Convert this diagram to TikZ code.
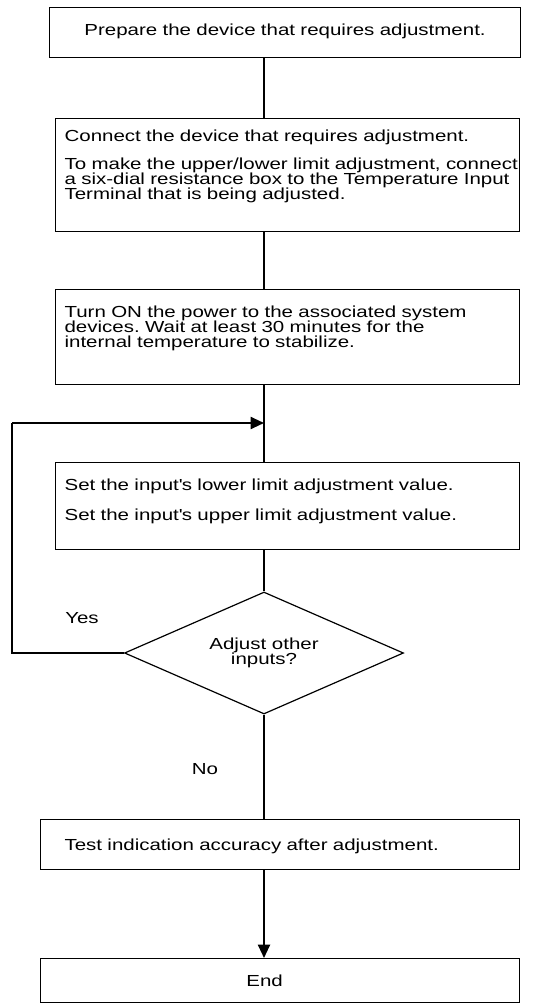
\documentclass[tikz,border=0pt]{standalone}
\usepackage{fontspec}
\setmainfont[FakeStretch=1.28]{Liberation Sans}
\usetikzlibrary{arrows.meta,positioning,shapes.geometric}
\frenchspacing

\begin{document}
\begin{tikzpicture}[
  x=0.75pt, y=-0.75pt,
  font=\fontsize{12}{11.25}\selectfont,
  >={Triangle[length=10pt,width=9pt]},
  stepbox/.style={draw, line width=0.9pt, anchor=north west, inner xsep=6.75pt, inner ysep=0pt, align=left, text width=334.5pt},
  decision/.style={draw, diamond, aspect=2.29, line width=0.9pt, minimum width=209.25pt, minimum height=91.5pt, inner sep=0pt, align=center},
  flow/.style={line width=1.5pt},
  arr/.style={->, line width=1.5pt},
  loopline/.style={line width=1pt},
]
\useasboundingbox (0,0) rectangle (543,1005);
\coordinate (spine) at (264,0);
\node[stepbox, align=center, text width=339.75pt, text height=20.6pt, text depth=16.9pt] (prep) at (49,7) {Prepare the device that requires adjustment.};
\node[stepbox, text height=17.25pt, text depth=67.5pt] (conn) at (55,118) {Connect the device that requires adjustment.\\[9.75pt] \mbox{To make the upper/lower limit adjustment, connect}\\ a six-dial resistance box to the Temperature Input\\ Terminal that is being adjusted.};
\node[stepbox, text height=21pt, text depth=50.25pt] (power) at (55,289) {Turn ON the power to the associated system\\ devices. Wait at least 30 minutes for the\\ internal temperature to stabilize.};
\node[stepbox, text height=21pt, text depth=44.25pt] (set) at (55,462) {Set the input\textquotesingle s lower limit adjustment value.\\[11.25pt] Set the input\textquotesingle s upper limit adjustment value.};
\node[decision] (dec) at (264,653) {Adjust other\\ inputs?};
\node[stepbox, inner xsep=18pt, text width=323.25pt, text height=23.25pt, text depth=14.25pt] (test) at (40,819) {Test indication accuracy after adjustment.};
\node[draw, line width=0.9pt, anchor=north west, inner sep=0pt, minimum width=359.25pt, minimum height=33pt, label={[xshift=-11.6pt]center:End}] (end) at (40,958) {};
\node (yes) at (82,618) {Yes};
\node (no) at (205,769) {No};
\coordinate (loopbot) at (12,653);
\coordinate (looptop) at (12,423);
\coordinate (loopend) at (264,423);
\draw[flow] (prep.south -| spine) -- (conn.north -| spine);
\draw[flow] (conn.south -| spine) -- (power.north -| spine);
\draw[flow] (power.south -| spine) -- (set.north -| spine);
\draw[flow] (set.south -| spine) -- (dec.north);
\draw[flow] (dec.south) -- (test.north -| spine);
\draw[arr] (test.south -| spine) -- (end.north -| spine);
\draw[loopline] (dec.west) -- (loopbot) -- (looptop);
\draw[arr] (looptop) -- (loopend);
\end{tikzpicture}
\end{document}
